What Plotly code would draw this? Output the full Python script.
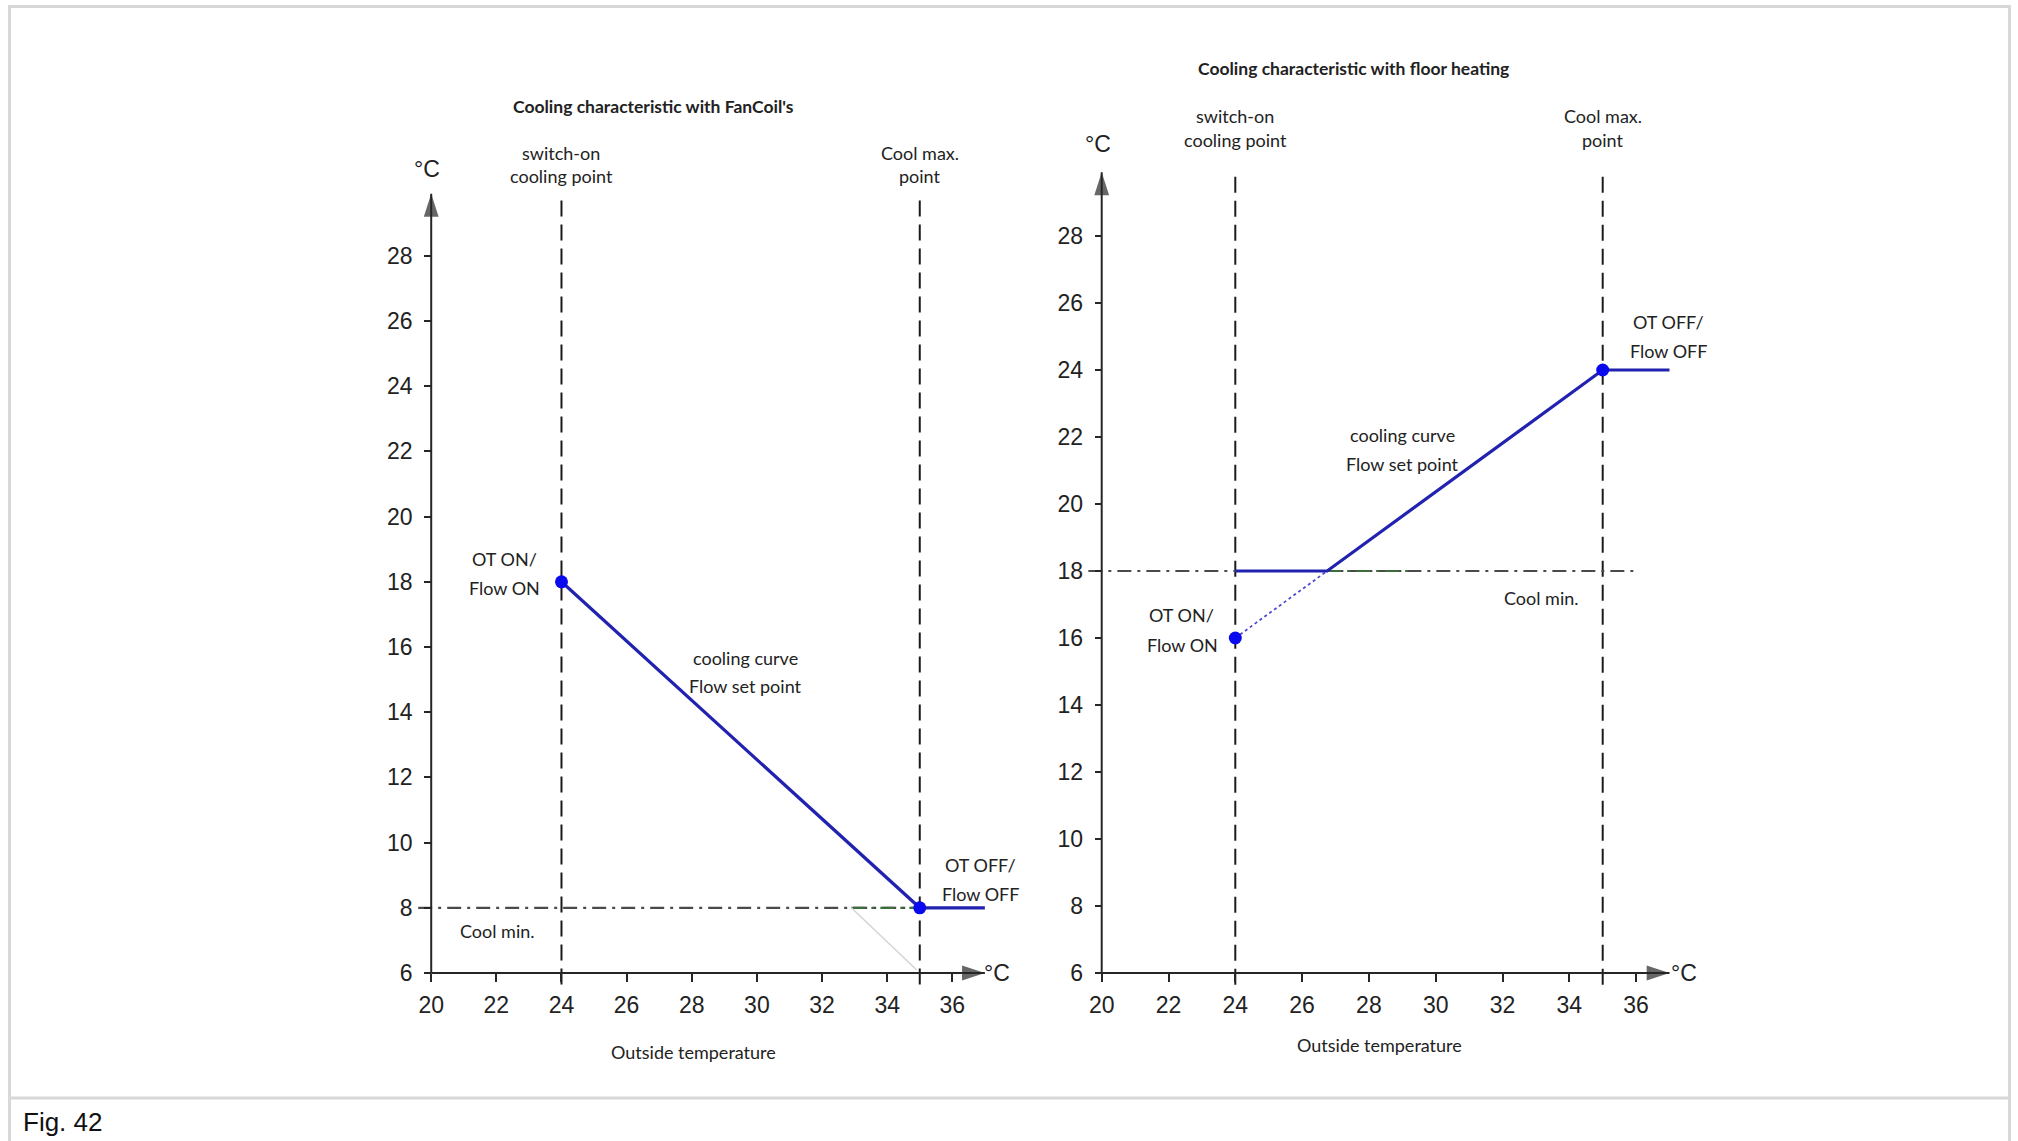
import plotly.graph_objects as go

# ---------------- data ----------------
x_ticks = [20, 22, 24, 26, 28, 30, 32, 34, 36]
y_ticks = [6, 8, 10, 12, 14, 16, 18, 20, 22, 24, 26, 28]

# FanCoil chart
fc_curve_x = [24, 35, 37]
fc_curve_y = [18, 8, 8]
fc_points_x = [24, 35]
fc_points_y = [18, 8]
fc_switch_on = 24
fc_cool_max = 35
fc_cool_min = 8

# Floor heating chart
fh_curve_x = [24, 26.75, 35, 37]
fh_curve_y = [18, 18, 24, 24]
fh_dotted_x = [24, 26.75]
fh_dotted_y = [16, 18]
fh_points_x = [24, 35]
fh_points_y = [16, 24]
fh_switch_on = 24
fh_cool_max = 35
fh_cool_min = 18

# ---------------- layout geometry ----------------
PAGE_W, PAGE_H = 2018, 1141
OFF = 0  # body margin removed by post_script below
W, H = PAGE_W - 2 * OFF, PAGE_H - 2 * OFF
X_RANGE = [18.5, 38.5]
Y_RANGE = [3, 34]
X_AXIS_END = 37.0
Y_AXIS_END = 29.9
VLINE_TOP = 29.9
VLINE_BOTTOM = 5.65
HLINE_START = 19.6


def xdom(px20, scale):
    return [(px20 - OFF + (X_RANGE[0] - 20) * scale) / W, (px20 - OFF + (X_RANGE[1] - 20) * scale) / W]


def ydom(py6, scale):
    top = py6 - OFF - (Y_RANGE[1] - 6) * scale
    bot = py6 - OFF - (Y_RANGE[0] - 6) * scale
    return [1 - bot / H, 1 - top / H]


def px(x):
    return (x - OFF) / W


def py(y):
    return 1 - (y - OFF) / H


L_PX20, L_XS, L_PY6, L_YS = 431.2, 32.57, 973.0, 32.6
R_PX20, R_XS, R_PY6, R_YS = 1101.7, 33.4, 973.0, 33.5

AX_COLOR = "#262626"
BLUE_LINE = "#2222b0"
BLUE_DOT = "#0a0aee"
TXT = "#222222"
ANN_FONT = "Lato, Open Sans, sans-serif"
NUM_FONT = "Liberation Sans, Arial, sans-serif"

fig = go.Figure()


def add_chart(xa, ya, curve_x, curve_y, pts_x, pts_y, sw, cm, cmin, hline_end, green_seg, dotted=None, faint=None):
    # vertical dashed reference lines
    for xv in (sw, cm):
        fig.add_trace(go.Scatter(x=[xv, xv], y=[VLINE_BOTTOM, VLINE_TOP], mode="lines",
                                 line=dict(color="#1a1a1a", width=2, dash="16px,8px"),
                                 xaxis=xa, yaxis=ya, hoverinfo="skip", showlegend=False))
    # Cool min dash-dot line
    fig.add_trace(go.Scatter(x=[HLINE_START, hline_end], y=[cmin, cmin], mode="lines",
                             line=dict(color="#4a4a4a", width=2.2, dash="14px,6px,3px,6px"),
                             xaxis=xa, yaxis=ya, hoverinfo="skip", showlegend=False))
    fig.add_trace(go.Scatter(x=green_seg, y=[cmin, cmin], mode="lines",
                             line=dict(color="#3b6e3b", width=2.2, dash="14px,6px,3px,6px"),
                             xaxis=xa, yaxis=ya, hoverinfo="skip", showlegend=False))
    if faint is not None:
        fig.add_trace(go.Scatter(x=faint[0], y=faint[1], mode="lines",
                                 line=dict(color="#d4d4d4", width=1.5),
                                 xaxis=xa, yaxis=ya, hoverinfo="skip", showlegend=False))
    # axes with arrows
    fig.add_trace(go.Scatter(x=[20, X_AXIS_END], y=[6, 6], mode="lines+markers",
                             line=dict(color=AX_COLOR, width=2),
                             marker=dict(symbol=["circle", "arrow"], size=[0, 24], angle=[0, 90],
                                         color=AX_COLOR, line=dict(width=0)),
                             cliponaxis=False, xaxis=xa, yaxis=ya, hoverinfo="skip", showlegend=False))
    fig.add_trace(go.Scatter(x=[20, 20], y=[6, Y_AXIS_END], mode="lines+markers",
                             line=dict(color=AX_COLOR, width=2),
                             marker=dict(symbol=["circle", "arrow"], size=[0, 24], angle=[0, 0],
                                         color=AX_COLOR, line=dict(width=0)),
                             cliponaxis=False, xaxis=xa, yaxis=ya, hoverinfo="skip", showlegend=False))
    if dotted is not None:
        fig.add_trace(go.Scatter(x=dotted[0], y=dotted[1], mode="lines",
                                 line=dict(color="#4b4bd2", width=1.8, dash="dot"),
                                 xaxis=xa, yaxis=ya, hoverinfo="skip", showlegend=False))
    fig.add_trace(go.Scatter(x=curve_x, y=curve_y, mode="lines",
                             line=dict(color=BLUE_LINE, width=3.2),
                             xaxis=xa, yaxis=ya, hoverinfo="skip", showlegend=False))
    fig.add_trace(go.Scatter(x=pts_x, y=pts_y, mode="markers",
                             marker=dict(color=BLUE_DOT, size=13, line=dict(width=0)),
                             cliponaxis=False, xaxis=xa, yaxis=ya, hoverinfo="skip", showlegend=False))


add_chart("x", "y", fc_curve_x, fc_curve_y, fc_points_x, fc_points_y,
          fc_switch_on, fc_cool_max, fc_cool_min, fc_cool_max, [32.9, fc_cool_max],
          faint=([32.9, 34.9], [8, 6.1]))
add_chart("x2", "y2", fh_curve_x, fh_curve_y, fh_points_x, fh_points_y,
          fh_switch_on, fh_cool_max, fh_cool_min, 36.05, [26.75, 29.3],
          dotted=(fh_dotted_x, fh_dotted_y))


def axis_x(px20, scale, py6):
    return dict(domain=xdom(px20, scale), range=X_RANGE, anchor="free", position=py(py6),
                tickvals=x_ticks, ticktext=[str(v) for v in x_ticks], ticks="outside", ticklen=8,
                tickwidth=1.5, tickcolor=AX_COLOR, showline=False, showgrid=False, zeroline=False,
                ticklabelstandoff=3,
                tickfont=dict(family=NUM_FONT, size=23, color=TXT), fixedrange=True)


def axis_y(px20, py6, scale):
    return dict(domain=ydom(py6, scale), range=Y_RANGE, anchor="free", position=px(px20),
                tickvals=y_ticks, ticktext=[str(v) for v in y_ticks], ticks="outside", ticklen=7,
                tickwidth=1.5, tickcolor=AX_COLOR, showline=False, showgrid=False, zeroline=False,
                ticklabelstandoff=7,
                tickfont=dict(family=NUM_FONT, size=23, color=TXT), fixedrange=True)


anns = []


def txt(xr, yr, x, y, s, size=18, bold=False, family=ANN_FONT, xanchor="center"):
    anns.append(dict(xref=xr, yref=yr, x=x, y=y, text=("<b>%s</b>" % s) if bold else s,
                     showarrow=False, xanchor=xanchor, yanchor="middle",
                     font=dict(family=family, size=size, color=TXT)))


# left chart texts
txt("x", "y", 26.81, 32.57, "Cooling characteristic with FanCoil's", 17.5, bold=True)
txt("x", "y", fc_switch_on, 31.15, "switch-on")
txt("x", "y", fc_switch_on, 30.44, "cooling point")
txt("x", "y", fc_cool_max, 31.15, "Cool max.")
txt("x", "y", fc_cool_max, 30.44, "point")
txt("x", "y", 19.88, 30.67, "°C", 23, family=NUM_FONT)
txt("x", "y", 22.25, 18.71, "OT ON/")
txt("x", "y", 22.25, 17.81, "Flow ON")
txt("x", "y", 29.64, 15.67, "cooling curve")
txt("x", "y", 29.64, 14.80, "Flow set point")
txt("x", "y", 36.87, 9.32, "OT OFF/")
txt("x", "y", 36.87, 8.41, "Flow OFF")
txt("x", "y", 22.05, 7.30, "Cool min.")
txt("x", "y", 28.06, 3.59, "Outside temperature")
txt("x", "y", 37.38, 6.0, "°C", 23, family=NUM_FONT)

# right chart texts
txt("x2", "y2", 27.55, 33.01, "Cooling characteristic with floor heating", 17.5, bold=True)
txt("x2", "y2", fh_switch_on, 31.59, "switch-on")
txt("x2", "y2", fh_switch_on, 30.86, "cooling point")
txt("x2", "y2", fh_cool_max, 31.59, "Cool max.")
txt("x2", "y2", fh_cool_max, 30.86, "point")
txt("x2", "y2", 19.88, 30.74, "°C", 23, family=NUM_FONT)
txt("x2", "y2", 36.96, 25.44, "OT OFF/")
txt("x2", "y2", 36.96, 24.56, "Flow OFF")
txt("x2", "y2", 29.01, 22.06, "cooling curve")
txt("x2", "y2", 29.01, 21.18, "Flow set point")
txt("x2", "y2", 33.18, 17.18, "Cool min.")
txt("x2", "y2", 22.39, 16.68, "OT ON/")
txt("x2", "y2", 22.43, 15.80, "Flow ON")
txt("x2", "y2", 28.32, 3.85, "Outside temperature")
txt("x2", "y2", 37.42, 6.0, "°C", 23, family=NUM_FONT)

# caption
anns.append(dict(xref="paper", yref="paper", x=px(22), y=py(1122), text="Fig. 42", showarrow=False,
                 xanchor="left", yanchor="middle", borderpad=0,
                 font=dict(family=NUM_FONT, size=26, color="#111111")))

FRAME = "#d8d8d8"
shapes = [
    dict(type="line", xref="paper", yref="paper", x0=px(9.5), x1=px(9.5), y0=py(6.5), y1=0,
         line=dict(color=FRAME, width=3)),
    dict(type="line", xref="paper", yref="paper", x0=px(2009.5), x1=px(2009.5), y0=py(6.5), y1=0,
         line=dict(color=FRAME, width=3)),
    dict(type="line", xref="paper", yref="paper", x0=px(8), x1=px(2011), y0=py(6.5), y1=py(6.5),
         line=dict(color=FRAME, width=3)),
    dict(type="line", xref="paper", yref="paper", x0=px(8), x1=px(2011), y0=py(1098), y1=py(1098),
         line=dict(color=FRAME, width=3)),
]

fig.update_layout(
    width=W, height=H, margin=dict(l=0, r=0, t=0, b=0),
    paper_bgcolor="white", plot_bgcolor="rgba(0,0,0,0)", showlegend=False,
    xaxis=axis_x(L_PX20, L_XS, L_PY6), yaxis=axis_y(L_PX20, L_PY6, L_YS),
    xaxis2=axis_x(R_PX20, R_XS, R_PY6), yaxis2=axis_y(R_PX20, R_PY6, R_YS),
    annotations=anns, shapes=shapes,
)

fig.write_html("out.html", config={"displayModeBar": False},
               post_script="document.body.style.margin='0px';document.body.style.overflow='hidden';")
